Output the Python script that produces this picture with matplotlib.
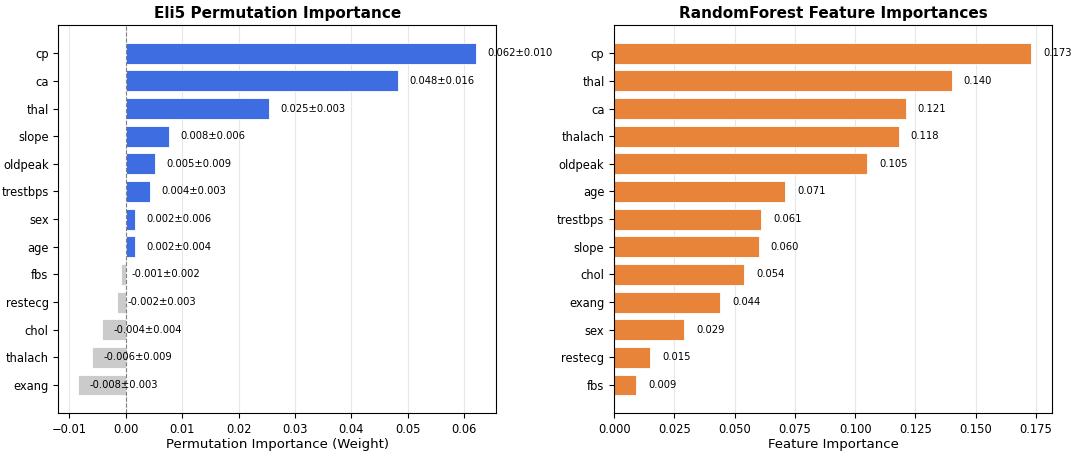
import matplotlib
matplotlib.use("Agg")
import matplotlib.pyplot as plt

# Eli5 permutation importance (weights, std)
perm_features = ["cp", "ca", "thal", "slope", "oldpeak", "trestbps", "sex",
                 "age", "fbs", "restecg", "chol", "thalach", "exang"]
perm_weight = [0.0621, 0.0483, 0.0254, 0.0077, 0.0052, 0.0043, 0.0016,
               0.0016, -0.0009, -0.0016, -0.0041, -0.0059, -0.0084]
perm_std = [0.010, 0.016, 0.003, 0.006, 0.009, 0.003, 0.006,
            0.004, 0.002, 0.003, 0.004, 0.009, 0.003]

# RandomForest feature importances
rf_features = ["cp", "thal", "ca", "thalach", "oldpeak", "age", "trestbps",
               "slope", "chol", "exang", "sex", "restecg", "fbs"]
rf_importance = [0.173, 0.140, 0.121, 0.118, 0.105, 0.071, 0.061,
                 0.060, 0.054, 0.044, 0.029, 0.015, 0.009]

fig, (ax1, ax2) = plt.subplots(1, 2, figsize=(10.8, 4.58), dpi=100)
fig.subplots_adjust(left=0.054, right=0.974, top=0.945, bottom=0.098, wspace=0.27)

# left panel
ypos = list(range(len(perm_features)))[::-1]
colors = ["#3d6de0" if w > 0 else "#cbcbcb" for w in perm_weight]
ax1.barh(ypos, perm_weight, height=0.75, color=colors, edgecolor="white",
         linewidth=0.6, zorder=2)
ax1.axvline(0, color="gray", linestyle="--", linewidth=0.8, zorder=3)
for y, w, s in zip(ypos, perm_weight, perm_std):
    ax1.text(w + 0.002, y, f"{w:.3f}\u00b1{s:.3f}", va="center", ha="left",
             fontsize=7.2, zorder=4)
ax1.set_yticks(ypos)
ax1.set_yticklabels(perm_features, fontsize=8.3)
ax1.tick_params(axis="x", labelsize=8.3)
ax1.set_xlabel("Permutation Importance (Weight)", fontsize=9.5, labelpad=1.5)
ax1.set_title("Eli5 Permutation Importance", fontsize=11, fontweight="bold", pad=5)
ax1.grid(axis="x", alpha=0.3, zorder=0)
ax1.set_axisbelow(True)

# right panel
ypos2 = list(range(len(rf_features)))[::-1]
ax2.barh(ypos2, rf_importance, height=0.75, color="#e8833a", edgecolor="white",
         linewidth=0.6, zorder=2)
for y, v in zip(ypos2, rf_importance):
    ax2.text(v + 0.005, y, f"{v:.3f}", va="center", ha="left", fontsize=7.2)
ax2.set_yticks(ypos2)
ax2.set_yticklabels(rf_features, fontsize=8.3)
ax2.tick_params(axis="x", labelsize=8.3)
ax2.set_xlabel("Feature Importance", fontsize=9.5, labelpad=1.5)
ax2.set_title("RandomForest Feature Importances", fontsize=11, fontweight="bold", pad=5)
ax2.grid(axis="x", alpha=0.3, zorder=0)
ax2.set_axisbelow(True)

fig.savefig("out.png", dpi=100)
